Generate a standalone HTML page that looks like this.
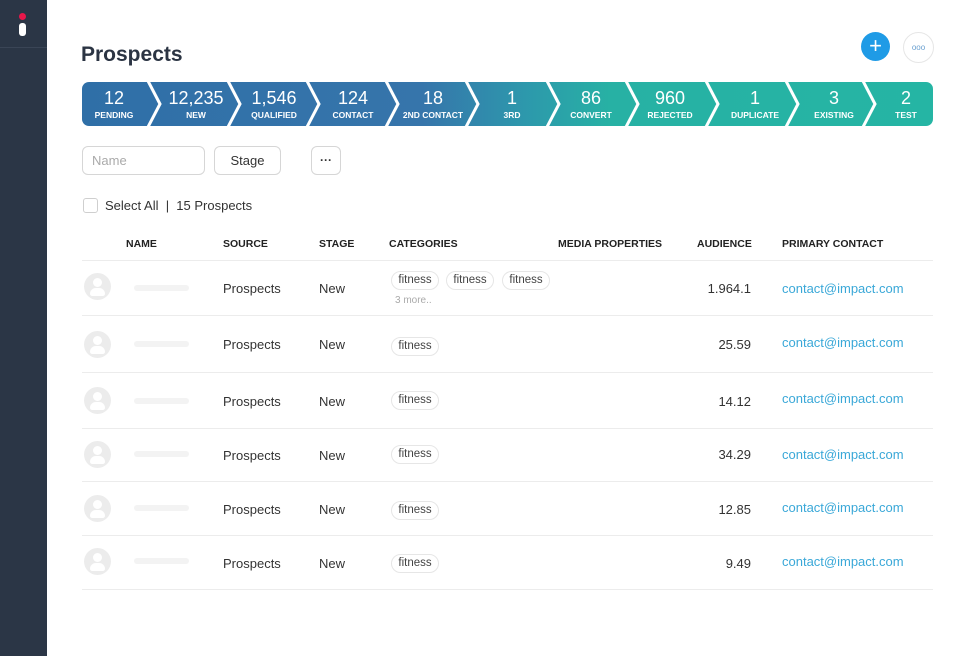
<!DOCTYPE html>
<html><head><meta charset="utf-8">
<style>
*{margin:0;padding:0;box-sizing:border-box}
body{width:960px;height:656px;background:#fff;font-family:"Liberation Sans",Arial,sans-serif;position:relative;overflow:hidden;color:#333}
.a{position:absolute;white-space:nowrap}
.side{left:0;top:0;width:47px;height:656px;background:#2b3646}
.hd{font-size:10.5px;font-weight:bold;color:#222;top:238px}
.line{position:absolute;left:82px;width:851px;height:1px;background:#ececec}
.av{position:absolute;left:84px;width:27px;height:27px;border-radius:50%;background:#ececec;overflow:hidden}
.av:before{content:"";position:absolute;left:9px;top:5px;width:9px;height:9px;border-radius:50%;background:#fff}
.av:after{content:"";position:absolute;left:6px;top:15px;width:15px;height:8px;border-radius:8px 8px 3px 3px;background:#fff}
.nm{position:absolute;left:134px;width:55px;height:6px;background:#f3f3f3;border-radius:3px}
.t{font-size:13px;color:#333}
.tag{position:absolute;height:19px;border:1px solid #e6e6e6;border-radius:10px;font-size:11.5px;color:#444;line-height:17px;text-align:center;width:48px}
.num{font-size:13px;color:#333;text-align:right;width:80px;left:671px}
.ct{font-size:13px;color:#3aa8d8;left:782px}
</style></head><body>
<div class="a side"></div>
<div class="a" style="left:0;top:47px;width:47px;height:1px;background:#3a4556"></div>
<div class="a" style="left:19px;top:13px;width:7px;height:7px;border-radius:50%;background:#e8174a"></div>
<div class="a" style="left:19px;top:23px;width:7px;height:13px;border-radius:3px;background:#fff"></div>

<div class="a" style="left:81px;top:43px;font-size:21px;font-weight:bold;color:#2b3443">Prospects</div>

<div class="a" style="left:861px;top:32px;width:29px;height:29px;border-radius:50%;background:#1f9be6;color:#fff;font-size:22px;line-height:28px;text-align:center">+</div>
<div class="a" style="left:903px;top:32px;width:31px;height:31px;border-radius:50%;border:1px solid #e6e6e6;color:#6aa0d0;font-size:8px;line-height:29px;text-align:center;letter-spacing:0px">ooo</div>

<svg class="a" style="left:82px;top:82px" width="851" height="44" viewBox="0 0 851 44">
<defs><linearGradient id="g" x1="0" x2="1" y1="0" y2="0">
<stop offset="0" stop-color="#2f6fa7"/><stop offset="0.4" stop-color="#3675ab"/><stop offset="0.52" stop-color="#2d98ac"/><stop offset="0.62" stop-color="#27b1a4"/><stop offset="1" stop-color="#25b5a4"/></linearGradient></defs>
<rect x="0" y="0" width="851" height="44" rx="7" fill="url(#g)"/>
<g fill="none" stroke="#fff" stroke-width="3">
<polyline points="66,-1 78,22 66,45"/>
<polyline points="146,-1 158,22 146,45"/>
<polyline points="225,-1 237,22 225,45"/>
<polyline points="304,-1 316,22 304,45"/>
<polyline points="384,-1 396,22 384,45"/>
<polyline points="465,-1 477,22 465,45"/>
<polyline points="544,-1 556,22 544,45"/>
<polyline points="624,-1 636,22 624,45"/>
<polyline points="704,-1 716,22 704,45"/>
<polyline points="781,-1 793,22 781,45"/>
</g>
<g fill="#fff" text-anchor="middle" font-family="Liberation Sans, Arial, sans-serif">
<g font-size="18">
<text x="32" y="22">12</text><text x="114" y="22">12,235</text><text x="192" y="22">1,546</text><text x="271" y="22">124</text><text x="351" y="22">18</text><text x="430" y="22">1</text><text x="509" y="22">86</text><text x="588" y="22">960</text><text x="673" y="22">1</text><text x="752" y="22">3</text><text x="824" y="22">2</text>
</g>
<g font-size="8.5" font-weight="bold">
<text x="32" y="36">PENDING</text><text x="114" y="36">NEW</text><text x="192" y="36">QUALIFIED</text><text x="271" y="36">CONTACT</text><text x="351" y="36">2ND CONTACT</text><text x="430" y="36">3RD</text><text x="509" y="36">CONVERT</text><text x="588" y="36">REJECTED</text><text x="673" y="36">DUPLICATE</text><text x="752" y="36">EXISTING</text><text x="824" y="36">TEST</text>
</g></g>
</svg>

<div class="a" style="left:82px;top:146px;width:123px;height:29px;border:1px solid #d6d6d6;border-radius:6px;font-size:13px;color:#aaa;padding-left:9px;line-height:27px">Name</div>
<div class="a" style="left:214px;top:146px;width:67px;height:29px;border:1px solid #d6d6d6;border-radius:6px;font-size:13px;color:#333;text-align:center;line-height:28px">Stage</div>
<div class="a" style="left:311px;top:146px;width:30px;height:29px;border:1px solid #d6d6d6;border-radius:6px;font-size:12px;color:#333;text-align:center;line-height:27px;font-weight:bold">···</div>

<div class="a" style="left:83px;top:198px;width:15px;height:15px;border:1px solid #cfcfcf;border-radius:3px"></div>
<div class="a" style="left:105px;top:198px;font-size:13px;color:#333">Select All &nbsp;|&nbsp; 15 Prospects</div>

<div class="a hd" style="left:126px">NAME</div>
<div class="a hd" style="left:223px">SOURCE</div>
<div class="a hd" style="left:319px">STAGE</div>
<div class="a hd" style="left:389px">CATEGORIES</div>
<div class="a hd" style="left:558px">MEDIA PROPERTIES</div>
<div class="a hd" style="left:697px">AUDIENCE</div>
<div class="a hd" style="left:782px">PRIMARY CONTACT</div>

<div class="line" style="top:260px"></div>
<div class="line" style="top:315px"></div>
<div class="line" style="top:372px"></div>
<div class="line" style="top:428px"></div>
<div class="line" style="top:481px"></div>
<div class="line" style="top:535px"></div>
<div class="line" style="top:589px"></div>

<!-- row 1 -->
<div class="av" style="top:273px"></div><div class="nm" style="top:285px"></div>
<div class="a t" style="left:223px;top:281px">Prospects</div>
<div class="a t" style="left:319px;top:281px">New</div>
<div class="tag" style="left:391px;top:271px">fitness</div>
<div class="tag" style="left:446px;top:271px">fitness</div>
<div class="tag" style="left:502px;top:271px">fitness</div>
<div class="a" style="left:395px;top:295px;font-size:10px;color:#aaa">3 more..</div>
<div class="a num" style="top:281px">1.964.1</div>
<div class="a ct" style="top:281px">contact@impact.com</div>

<!-- row 2 -->
<div class="av" style="top:331px"></div><div class="nm" style="top:341px"></div>
<div class="a t" style="left:223px;top:337px">Prospects</div>
<div class="a t" style="left:319px;top:337px">New</div>
<div class="tag" style="left:391px;top:337px">fitness</div>
<div class="a num" style="top:337px">25.59</div>
<div class="a ct" style="top:335px">contact@impact.com</div>

<!-- row 3 -->
<div class="av" style="top:387px"></div><div class="nm" style="top:398px"></div>
<div class="a t" style="left:223px;top:394px">Prospects</div>
<div class="a t" style="left:319px;top:394px">New</div>
<div class="tag" style="left:391px;top:391px">fitness</div>
<div class="a num" style="top:394px">14.12</div>
<div class="a ct" style="top:391px">contact@impact.com</div>

<!-- row 4 -->
<div class="av" style="top:441px"></div><div class="nm" style="top:451px"></div>
<div class="a t" style="left:223px;top:448px">Prospects</div>
<div class="a t" style="left:319px;top:448px">New</div>
<div class="tag" style="left:391px;top:445px">fitness</div>
<div class="a num" style="top:447px">34.29</div>
<div class="a ct" style="top:447px">contact@impact.com</div>

<!-- row 5 -->
<div class="av" style="top:495px"></div><div class="nm" style="top:505px"></div>
<div class="a t" style="left:223px;top:502px">Prospects</div>
<div class="a t" style="left:319px;top:502px">New</div>
<div class="tag" style="left:391px;top:501px">fitness</div>
<div class="a num" style="top:502px">12.85</div>
<div class="a ct" style="top:500px">contact@impact.com</div>

<!-- row 6 -->
<div class="av" style="top:548px"></div><div class="nm" style="top:558px"></div>
<div class="a t" style="left:223px;top:556px">Prospects</div>
<div class="a t" style="left:319px;top:556px">New</div>
<div class="tag" style="left:391px;top:554px">fitness</div>
<div class="a num" style="top:556px">9.49</div>
<div class="a ct" style="top:554px">contact@impact.com</div>
</body></html>
